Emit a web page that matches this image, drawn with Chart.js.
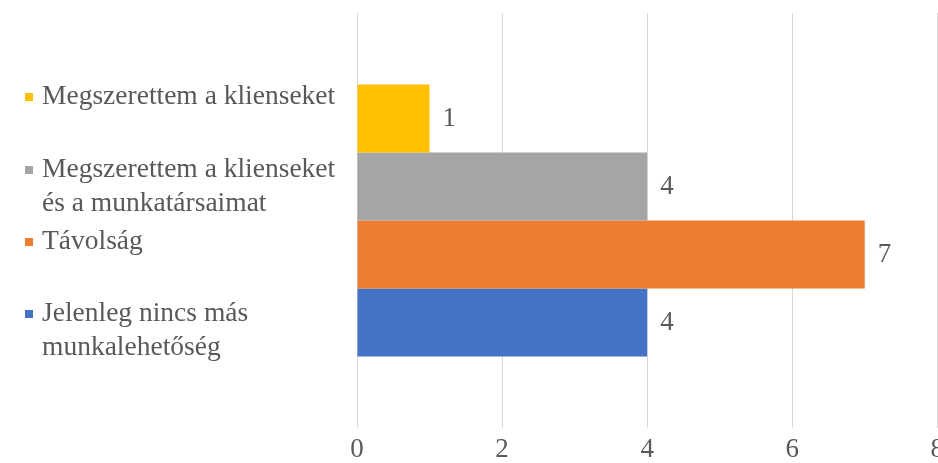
<!DOCTYPE html>
<html>
<head>
<meta charset="utf-8">
<script src="https://cdn.jsdelivr.net/npm/chart.js@4/dist/chart.umd.min.js"></script>
<style>
  html, body { margin: 0; padding: 0; background: #ffffff; overflow: hidden; }
  #wrap { position: relative; width: 950px; height: 463px; }
</style>
</head>
<body>
<div id="wrap"><canvas id="chart"></canvas></div>
<script>
// Answers (top to bottom), each split into the lines shown in the legend
const seriesLines = [
  ['Megszerettem a klienseket'],
  ['Megszerettem a klienseket', 'és a munkatársaimat'],
  ['Távolság'],
  ['Jelenleg nincs más', 'munkalehetőség']
];
const seriesValues = [1, 4, 7, 4];
const seriesColors = ['#FFC000', '#A5A5A5', '#ED7D31', '#4472C4'];
const categories = [''];
const xTicks = [0, 2, 4, 6, 8];

const FONT = '"Liberation Serif", "Times New Roman", serif';
const TEXT = '#595959';

// Value written just past the end of each bar
const valueLabels = {
  id: 'valueLabels',
  afterDatasetsDraw(chart) {
    const ctx = chart.ctx;
    ctx.save();
    ctx.font = '27px ' + FONT;
    ctx.fillStyle = TEXT;
    ctx.textAlign = 'left';
    ctx.textBaseline = 'middle';
    chart.data.datasets.forEach((ds, i) => {
      const bar = chart.getDatasetMeta(i).data[0];
      ctx.fillText(String(ds.data[0]), bar.x + 13, bar.y);
    });
    ctx.restore();
  }
};

// Legend column on the left with wrapped entries
const sideLegend = {
  id: 'sideLegend',
  afterDraw(chart, args, opts) {
    const ctx = chart.ctx;
    ctx.save();
    ctx.font = '27.5px ' + FONT;
    ctx.textAlign = 'left';
    ctx.textBaseline = 'middle';
    chart.data.datasets.forEach((ds, i) => {
      const y0 = opts.rows[i];
      ctx.fillStyle = ds.backgroundColor;
      ctx.fillRect(opts.boxX, y0 - 4, 8, 8);
      ctx.fillStyle = TEXT;
      ds.lines.forEach((line, j) => {
        ctx.fillText(line, opts.textX, y0 + j * opts.lineHeight);
      });
    });
    ctx.restore();
  }
};

new Chart(document.getElementById('chart'), {
  type: 'bar',
  data: {
    labels: categories,
    datasets: seriesLines.map((lines, i) => ({
      label: lines.join(' '),
      lines: lines,
      data: [seriesValues[i]],
      backgroundColor: seriesColors[i],
      borderWidth: 0,
      barPercentage: 1,
      categoryPercentage: 0.655
    }))
  },
  options: {
    indexAxis: 'y',
    responsive: true,
    maintainAspectRatio: false,
    animation: false,
    layout: { padding: { left: 357, right: 9, top: 13, bottom: 0 } },
    plugins: {
      legend: { display: false },
      tooltip: { enabled: false },
      sideLegend: { boxX: 25, textX: 42, rows: [97, 170, 242, 314], lineHeight: 34 }
    },
    scales: {
      x: {
        min: 0,
        max: 8,
        afterBuildTicks(scale) { scale.ticks = xTicks.map(v => ({ value: v })); },
        afterFit(scale) { scale.height = 35; },
        border: { display: false },
        grid: { color: '#D9D9D9', lineWidth: 1, tickLength: 0, drawTicks: false },
        ticks: { color: TEXT, font: { family: FONT, size: 27 }, padding: 6, maxRotation: 0 }
      },
      y: { display: false }
    }
  },
  plugins: [valueLabels, sideLegend]
});
</script>
</body>
</html>
